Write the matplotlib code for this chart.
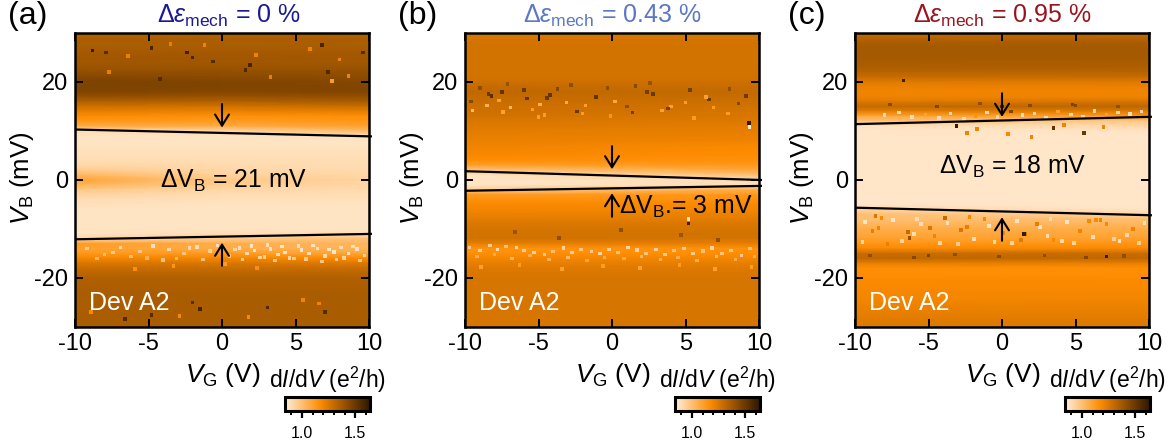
#!/usr/bin/env python3
"""
dI/dV maps of Dev A2 at three mechanical strain values
"""

import matplotlib
matplotlib.use("Agg")
import matplotlib.pyplot as plt
from matplotlib.colors import LinearSegmentedColormap, Normalize
from matplotlib.cm import ScalarMappable
from matplotlib.ticker import MultipleLocator
import numpy as np

plt.rcParams['font.family'] = ['Liberation Sans', 'DejaVu Sans']
plt.rcParams['mathtext.fontset'] = 'custom'
plt.rcParams['mathtext.rm'] = 'Liberation Sans'
plt.rcParams['mathtext.it'] = 'Liberation Sans:italic'
plt.rcParams['mathtext.bf'] = 'Liberation Sans:bold'
plt.rcParams['axes.unicode_minus'] = False

# Bias rows of every map, top to bottom, 1 mV apart
vb_rows = list(range(30, -31, -1))

# Panel (a): dI/dV row profiles at VG = -10, 0, 10
a_gates = [-10, 0, 10]
a_left = [1.34, 1.35, 1.36, 1.36, 1.37, 1.38, 1.38, 1.39, 1.41, 1.44, 1.46, 1.46, 1.45, 1.41, 1.34, 1.28,
          1.22, 1.17, 1.13, 1.07, 0.90, 0.88, 0.88, 0.88, 0.89, 0.89, 0.90, 0.92, 0.96, 1.03, 1.09, 1.04,
          0.97, 0.93, 0.90, 0.89, 0.88, 0.88, 0.88, 0.88, 0.88, 0.88, 0.92, 1.12, 1.10, 1.13, 1.19, 1.25,
          1.29, 1.32, 1.34, 1.35, 1.35, 1.36, 1.36, 1.36, 1.36, 1.36, 1.36, 1.36, 1.36]
a_mid = [1.34, 1.35, 1.36, 1.36, 1.37, 1.38, 1.38, 1.39, 1.41, 1.43, 1.45, 1.45, 1.44, 1.40, 1.34, 1.27,
         1.21, 1.15, 1.12, 1.07, 0.92, 0.88, 0.88, 0.88, 0.89, 0.89, 0.90, 0.91, 0.92, 0.94, 0.97, 0.95,
         0.92, 0.90, 0.89, 0.88, 0.88, 0.88, 0.88, 0.88, 0.88, 0.90, 0.96, 1.06, 1.06, 1.12, 1.19, 1.25,
         1.29, 1.32, 1.34, 1.35, 1.35, 1.36, 1.36, 1.36, 1.36, 1.36, 1.36, 1.36, 1.36]
a_right = [1.34, 1.35, 1.36, 1.36, 1.37, 1.38, 1.38, 1.39, 1.41, 1.43, 1.44, 1.45, 1.45, 1.41, 1.36, 1.29,
           1.22, 1.16, 1.13, 1.10, 1.02, 0.89, 0.88, 0.88, 0.89, 0.89, 0.90, 0.90, 0.91, 0.92, 0.93, 0.92,
           0.91, 0.90, 0.89, 0.88, 0.88, 0.88, 0.88, 0.88, 0.88, 0.90, 1.00, 1.03, 1.03, 1.08, 1.17, 1.24,
           1.29, 1.32, 1.34, 1.35, 1.35, 1.36, 1.36, 1.36, 1.36, 1.36, 1.36, 1.36, 1.36]

# Panel (b)
b_gates = [-10, 10]
b_left = [1.26, 1.26, 1.27, 1.27, 1.27, 1.27, 1.27, 1.27, 1.27, 1.27, 1.28, 1.30, 1.31, 1.30, 1.29, 1.28,
          1.28, 1.27, 1.25, 1.24, 1.23, 1.22, 1.21, 1.20, 1.19, 1.18, 1.16, 1.10, 0.98, 0.88, 0.87, 0.87,
          0.96, 1.12, 1.15, 1.18, 1.19, 1.21, 1.23, 1.25, 1.26, 1.27, 1.27, 1.22, 1.14, 1.16, 1.19, 1.22,
          1.24, 1.25, 1.26, 1.26, 1.26, 1.26, 1.26, 1.26, 1.26, 1.26, 1.26, 1.26, 1.26]
b_right = [1.26, 1.26, 1.27, 1.27, 1.27, 1.27, 1.27, 1.27, 1.27, 1.27, 1.28, 1.29, 1.30, 1.29, 1.28, 1.27,
           1.26, 1.25, 1.24, 1.23, 1.22, 1.21, 1.20, 1.18, 1.17, 1.16, 1.15, 1.13, 1.08, 1.00, 0.90, 0.90,
           1.06, 1.13, 1.15, 1.18, 1.19, 1.21, 1.23, 1.25, 1.26, 1.27, 1.26, 1.22, 1.15, 1.16, 1.19, 1.22,
           1.24, 1.25, 1.26, 1.26, 1.26, 1.26, 1.26, 1.26, 1.26, 1.26, 1.26, 1.26, 1.26]

# Panel (c)
c_gates = [-10, 10]
c_left = [1.30, 1.33, 1.36, 1.37, 1.37, 1.37, 1.36, 1.35, 1.33, 1.29, 1.24, 1.21, 1.20, 1.20, 1.24, 1.30,
          1.22, 1.08, 0.98, 0.88, 0.87, 0.87, 0.87, 0.87, 0.87, 0.87, 0.87, 0.87, 0.87, 0.87, 0.87, 0.87,
          0.87, 0.87, 0.87, 0.87, 0.93, 1.00, 1.00, 1.03, 1.06, 1.08, 1.10, 1.14, 1.18, 1.29, 1.31, 1.22,
          1.16, 1.16, 1.17, 1.18, 1.18, 1.19, 1.19, 1.20, 1.21, 1.22, 1.23, 1.24, 1.24]
c_right = [1.30, 1.33, 1.36, 1.37, 1.37, 1.37, 1.36, 1.35, 1.33, 1.29, 1.24, 1.21, 1.20, 1.20, 1.26, 1.32,
           1.24, 1.12, 0.97, 0.92, 0.88, 0.87, 0.87, 0.87, 0.87, 0.87, 0.87, 0.87, 0.87, 0.87, 0.87, 0.87,
           0.87, 0.87, 0.87, 0.87, 0.87, 0.93, 1.00, 1.03, 1.06, 1.08, 1.10, 1.14, 1.18, 1.29, 1.31, 1.22,
           1.16, 1.16, 1.17, 1.18, 1.18, 1.19, 1.19, 1.20, 1.21, 1.22, 1.23, 1.24, 1.24]

# Single outlying cells: gate voltage, bias, dI/dV
a_spk_vg = [-8.8, -7.9, -6.4, -4.8, -2.4, -2.0, -1.2, -0.6, 1.6, 2.3, 3.3, 6.8, 7.5, 8.0, 9.6, -7.7,
            -4.2, -3.5, 1.9, 6.0, 7.2, 8.6, -9.2, -8.0, -6.9, -5.6, -4.7, -3.6, -2.6, -1.7, -0.8, 0.5,
            1.2, 1.7, 2.2, 2.9, 3.3, 3.8, 4.3, 4.9, 5.4, 5.9, 6.5, 7.0, 7.6, 8.1, 8.6, 9.2, 9.7, -8.9,
            -4.8, -2.0, 1.8, 3.1, 5.5, 7.0, -6.6, -2.9, -1.5, 6.6,
            -8.5, -7.4, -6.2, -5.1, -4.0, -3.1, -2.2, -1.3, -0.3, 0.9,
            1.4, 2.0, 2.6, 3.1, 3.6, 4.1, 4.6, 5.2, 5.7, 6.2,
            6.8, 7.3, 7.8, 8.3, 8.9, 9.4, -5.9, -3.3, 0.2, 2.4]
a_spk_vb = [26.4, 26.0, 25.3, 27.0, 26.0, 25.0, 27.5, 24.2, 22.5, 25.5, 21.0, 27.6, 20.2, 24.6, 26.0, 22.1,
            20.6, 27.8, 23.5, 26.8, 22.0, 21.2, -14.0, -15.2, -13.8, -14.6, -13.5, -14.2, -15.0, -13.7, -14.5, -15.5,
            -13.9, -15.0, -14.4, -15.7, -14.1, -15.2, -14.8, -16.0, -14.3, -15.0, -14.0, -15.5, -14.7, -13.8, -15.0, -14.1, -15.4, -27.0,
            -27.5, -25.0, -28.0, -26.0, -24.5, -27.0, -28.3, -27.7, -26.3, -25.2,
            -16.0, -14.8, -15.6, -15.9, -16.3, -16.0, -13.9, -16.2, -13.4, -14.2,
            -16.2, -13.5, -15.8, -13.3, -16.4, -13.6, -15.9, -13.5, -16.1, -13.4,
            -16.6, -14.2, -16.2, -15.9, -13.6, -16.4, -18.2, -17.6, -17.2, -18.0]
a_spk_val = [1.64, 1.56, 1.22, 1.58, 1.60, 1.58, 1.20, 1.55, 1.56, 1.20, 1.22, 1.58, 1.12, 1.20, 1.56, 1.22,
             1.56, 1.22, 1.58, 1.20, 1.56, 1.20, 0.95, 1.00, 0.92, 0.96, 0.90, 0.92, 0.98, 0.90, 0.95, 1.00,
             0.90, 0.92, 0.88, 0.96, 0.89, 0.90, 0.88, 0.95, 0.87, 0.90, 0.88, 0.92, 0.87, 0.90, 0.88, 0.88, 0.92, 1.18,
             1.55, 1.55, 1.18, 1.56, 1.20, 1.55, 1.56, 1.18, 1.58, 1.20,
             1.02, 0.96, 1.00, 1.04, 0.98, 1.02, 0.92, 1.00, 0.90, 0.92,
             0.96, 0.88, 0.94, 0.90, 0.98, 0.88, 0.94, 0.90, 0.96, 0.88,
             0.98, 0.88, 0.96, 0.94, 0.90, 0.98, 1.16, 1.14, 1.12, 1.16]

b_spk_vg = [-9.7, -9.0, -8.3, -7.8, -7.2, -6.5, -6.0, -5.3, -4.6, -4.0, -3.3, -2.7, -2.1, -1.4, -0.8, -0.2,
            0.4, 1.1, 1.7, 2.3, 3.0, 3.6, 4.2, 4.9, 5.5, 6.2, 6.8, 7.5, 8.1, 8.8, 9.4, -9.5, -8.5, -8.2,
            -7.5, -6.9, -5.8, -4.9, -4.2, -3.1, -2.4, -1.1, 0.2, 1.4, 2.8, 4.0, 5.3, 6.6, 7.9, 9.1, 9.3,
            9.35, 5.2, 5.2, -8.4, -7.7, -6.0, -4.4, -1.8, 2.4, 3.8, 6.4,
            -9.2, -8.0, -6.8, -5.6, -4.3, -3.0, -1.7, -0.5, 0.8, 2.0,
            3.3, 4.5, 5.8, 7.1, 8.4, 9.7, -9.0, -7.4, -5.4, -3.7,
            -2.0, -0.3, 1.6, 3.4, 5.0, 6.9, 8.6, -6.6, -3.6, 0.6,
            4.7, 7.2, -8.9, -6.3, -3.4, -0.6, 1.9, 4.6, 7.0, 9.5,
            -7.1, -5.0, -2.8, -0.1, 2.6, 5.6, 8.0, -9.6, -4.6, 1.0]
b_spk_vb = [-13.8, -14.4, -13.4, -14.2, -13.6, -13.8, -14.4, -14.8, -15.2, -14.6, -13.9, -14.8, -14.2, -14.6, -15.0, -14.2,
            -14.8, -13.8, -14.3, -15.0, -14.2, -15.2, -14.4, -14.0, -15.0, -14.5, -13.9, -15.0, -14.4, -15.4, -14.0, 14.2, 15.2, 17.2,
            18.0, 14.8, 16.6, 15.4, 17.4, 15.8, 14.0, 17.0, 16.0, 13.8, 17.6, 15.0, 18.4, 16.4, 13.6, 17.2, 11.6,
            10.8, -8.9, -7.9, 17.6, 16.2, 18.4, 16.8, 15.2, 17.9, 14.6, 16.9,
            -15.6, -15.2, -16.0, -15.4, -16.2, -15.8, -16.4, -15.8, -16.0, -15.6,
            -16.2, -15.8, -16.4, -15.6, -16.2, -15.6, 18.8, 13.9, 14.4, 18.6,
            13.6, 18.8, 19.2, 14.2, 15.8, 14.8, 15.6, -10.6, -11.8, -10.2,
            -11.2, -12.2, -17.8, -17.4, -18.2, -17.6, -18.0, -17.4, -18.2, -17.8,
            19.6, 12.8, 19.4, 13.0, 19.8, 12.6, 18.6, 16.0, 13.2, 15.0]
b_spk_val = [0.98, 0.94, 0.96, 0.92, 1.00, 0.96, 0.95, 0.92, 0.96, 1.00, 0.95, 0.94, 0.98, 0.96, 0.92, 0.96,
             0.98, 0.94, 0.95, 0.98, 0.94, 0.96, 0.98, 0.94, 0.96, 1.00, 0.94, 0.98, 0.96, 0.95, 1.00, 1.02, 1.05, 1.54,
             1.52, 1.02, 1.52, 1.05, 1.52, 1.08, 1.50, 1.52, 1.08, 1.48, 1.50, 1.10, 1.48, 1.50, 1.12, 1.50, 1.64,
             0.86, 1.60, 0.90, 1.50, 1.10, 1.50, 1.50, 1.10, 1.48, 1.48, 1.10,
             1.04, 1.06, 1.02, 1.06, 1.04, 1.02, 1.08, 1.04, 1.06, 1.02,
             1.04, 1.06, 1.04, 1.02, 1.06, 1.04, 1.42, 1.10, 1.12, 1.44,
             1.12, 1.42, 1.44, 1.10, 1.12, 1.12, 1.44, 1.40, 1.42, 1.42,
             1.40, 1.42, 1.10, 1.12, 1.10, 1.12, 1.10, 1.12, 1.10, 1.12,
             1.40, 1.12, 1.42, 1.14, 1.40, 1.12, 1.42, 1.44, 1.12, 1.42]

c_spk_vg = [-6.7, -3.1, -2.4, -1.7, 0.4, 2.0, 3.5, 4.2, 5.6, 6.9, -8.0, -7.0, -6.1, -5.2, -4.3, -3.5,
            -2.6, -1.8, -1.0, -0.3, 0.6, 1.4, 2.2, 3.0, 3.8, 4.7, 5.5, 6.3, 7.1, 7.9, 8.7, 9.5, -9.3, -8.4,
            -7.4, -6.4, -5.5, -4.6, -3.7, -2.8, -1.9, -0.9, 0.1, 1.0, 1.6, 2.6, 3.5, 4.4, 5.3, 6.2, 7.1,
            8.0, 8.9, 9.7, -8.6, -6.3, -3.9, 1.5, 7.1, -5.0, 0.0, 5.0,
            -9.5, -7.8, -6.0, -4.2, -2.4, -0.5, 1.3, 3.1, 4.9, 6.7,
            8.5, -8.8, -6.8, -4.9, -3.0, -1.2, 0.7, 2.4, 4.1, 5.9,
            7.6, 9.3, -9.0, -6.0, -3.2, -0.2, 2.9, 5.7, 8.3, -7.6,
            -4.4, -1.5, 1.9, 4.8, 7.9, -8.2, -5.8, -2.2, 3.3, 6.4]
c_spk_vb = [20.3, 11.0, 9.6, 10.4, 9.4, 8.8, 10.6, 11.2, 9.6, 10.8, 13.2, 13.8, 12.8, 13.4, 12.6, 13.6,
            12.4, 13.0, 13.8, 12.8, 14.0, 13.2, 13.6, 12.7, 14.0, 13.4, 12.9, 14.1, 13.3, 13.8, 13.5, 14.0, -8.6, -9.8,
            -8.2, -10.6, -9.0, -11.4, -8.8, -10.2, -12.0, -9.4, -10.8, -8.4, -11.0, -9.6, -12.2, -8.6, -10.4, -11.6, -9.0,
            -12.4, -10.0, -8.8, -7.4, -11.8, -7.8, -11.0, -15.6, -15.4, 15.0, 15.2,
            -12.6, -13.0, -11.0, -12.8, -9.6, -12.6, -12.2, -11.4, -12.9, -8.2,
            -11.2, -10.4, -12.4, -9.8, -13.0, -8.0, -12.8, -9.0, -12.4, -8.4,
            -12.0, -12.8, -15.4, -15.8, -15.2, -15.6, -15.4, -15.8, -15.5, 15.4,
            15.0, 15.6, 15.2, 15.4, 15.0, -7.8, -8.0, -7.6, -7.9, -8.2]
c_spk_val = [1.60, 1.62, 1.20, 1.20, 1.18, 1.20, 1.52, 1.20, 1.50, 1.20, 0.90, 0.92, 0.90, 1.10, 0.90, 0.92,
             0.90, 1.15, 0.90, 0.92, 1.45, 0.90, 0.92, 0.90, 1.10, 0.92, 0.90, 0.92, 1.10, 0.92, 0.90, 0.92, 0.88, 1.20,
             0.88, 1.30, 0.90, 1.20, 0.88, 1.25, 0.90, 0.88, 1.20, 0.88, 1.25, 0.90, 1.18, 0.88, 1.20, 0.90, 1.18,
             0.90, 1.20, 0.88, 1.25, 1.40, 1.30, 1.62, 1.62, 1.45, 1.58, 1.45,
             0.92, 1.22, 0.90, 0.94, 1.22, 0.92, 1.24, 0.90, 0.94, 1.20,
             0.92, 1.22, 0.94, 1.25, 0.96, 1.18, 0.94, 1.22, 0.92, 1.18,
             0.94, 0.96, 1.42, 1.44, 1.42, 1.44, 1.42, 1.44, 1.42, 1.44,
             1.46, 1.42, 1.44, 1.46, 1.42, 1.18, 0.90, 1.18, 0.90, 1.18]

# Black guide lines: bias at VG = -10 and VG = 10
a_edges = [[10.3, 8.9], [-12.1, -11.0]]
b_edges = [[1.8, 0.0], [-2.2, -1.2]]
c_edges = [[11.4, 12.9], [-5.65, -7.2]]

# Arrows at VG = 0: (tail bias, head bias)
a_arrows = [(15.5, 10.7), (-17.5, -12.8)]
b_arrows = [(6.9, 2.2), (-7.5, -2.7)]
c_arrows = [(17.7, 12.9), (-12.4, -7.6)]

panel_labels = ["(a)", "(b)", "(c)"]
strain_labels = ["0 %", "0.43 %", "0.95 %"]
gap_labels = [" = 21 mV", ".= 3 mV", " = 18 mV"]
gate_ticks = [-10, -5, 0, 5, 10]
bias_ticks = [-20, 0, 20]
cbar_ticks = [1.0, 1.5]

W, H = 1172, 446
fig = plt.figure(figsize=(W / 100, H / 100), dpi=100)

def px_axes(x0, y0, x1, y1):
    return fig.add_axes([x0 / W, 1 - y1 / H, (x1 - x0) / W, (y1 - y0) / H])

cmap = LinearSegmentedColormap.from_list(
    "orange_hot", [(0.0, "#FFEFDC"), (0.41, "#FF8C00"), (1.0, "#2E1600")])
norm = Normalize(0.84, 1.64)

panels = [
    (a_gates, [a_left, a_mid, a_right], a_spk_vg, a_spk_vb, a_spk_val, a_edges, a_arrows, "#1A1A96", (0.8, -0.1), 229),
    (b_gates, [b_left, b_right], b_spk_vg, b_spk_vb, b_spk_val, b_edges, b_arrows, "#5B78C4", (5.0, -5.5), 222),
    (c_gates, [c_left, c_right], c_spk_vg, c_spk_vb, c_spk_val, c_edges, c_arrows, "#9A1420", (0.7, 2.6), 222),
]

for i, (gates, profiles, sx, sy, sv, edges, arrows, col, gap_xy, title_x) in enumerate(panels):
    off = 390 * i
    ax = px_axes(75 + off, 33, 369 + off, 327)

    z = np.array(profiles).T
    ax.pcolormesh(gates, vb_rows, z, shading="gouraud", cmap=cmap, norm=norm, rasterized=True)
    ax.scatter(sx, sy, c=sv, cmap=cmap, norm=norm, marker="s", s=7, linewidths=0, zorder=2)

    for left, right in edges:
        ax.plot([-10, 10.2], [left, right], color="black", lw=1.6, clip_on=False, zorder=3, solid_capstyle="butt")
    for tail, head in arrows:
        ax.annotate("", xy=(0, head), xytext=(0, tail), zorder=4,
                    arrowprops=dict(arrowstyle="->,head_length=0.8,head_width=0.5", color="black", lw=1.5,
                                    shrinkA=0, shrinkB=0))

    ax.set_xlim(-10, 10)
    ax.set_ylim(-30, 30)
    ax.set_xticks(gate_ticks)
    ax.set_yticks(bias_ticks)
    ax.tick_params(direction="in", length=6, width=1.4, top=True, right=True, labelsize=17)
    ax.tick_params(axis="x", pad=4)
    ax.tick_params(axis="y", pad=5)
    for s in ax.spines.values():
        s.set_linewidth(1.8)

    ax.text(-9.05, -25.2, "Dev A2", color="white", fontsize=18, ha="left", va="center")
    ax.text(gap_xy[0], gap_xy[1], r"$\Delta$V$_{\mathrm{B}}$" + gap_labels[i], fontsize=17.8, ha="center", va="center", zorder=5)

    fig.text((title_x + off) / W, 1 - 16 / H, r"$\Delta\mathit{\varepsilon}_{\mathrm{mech}}$ = " + strain_labels[i],
             color=col, fontsize=18, ha="center", va="center")
    fig.text((8 + off) / W, 1 - 16 / H, panel_labels[i], fontsize=23, ha="left", va="center")
    fig.text((22 + off) / W, 1 - 178 / H, r"$\mathit{V}_{\mathrm{B}}$ (mV)", fontsize=18.6, rotation=90,
             ha="center", va="center")
    fig.text((223 + off) / W, 1 - 375 / H, r"$\mathit{V}_{\mathrm{G}}$ (V)", fontsize=19, ha="center", va="center")
    fig.text((328 + off) / W, 1 - 380 / H, r"d$\mathit{I}$/d$\mathit{V}$ (e$^{2}$/h)", fontsize=16.5,
             ha="center", va="center")

    cax = px_axes(285 + off, 397, 370 + off, 411)
    cb = fig.colorbar(ScalarMappable(norm=norm, cmap=cmap), cax=cax, orientation="horizontal")
    cb.set_ticks(cbar_ticks)
    cb.ax.xaxis.set_minor_locator(MultipleLocator(0.1))
    cb.ax.tick_params(which="major", direction="out", length=5, width=1.6, labelsize=11.5, pad=6)
    cb.ax.tick_params(which="minor", direction="out", length=3, width=1.4)
    cb.outline.set_linewidth(2.2)

fig.savefig("out.png", dpi=100)
